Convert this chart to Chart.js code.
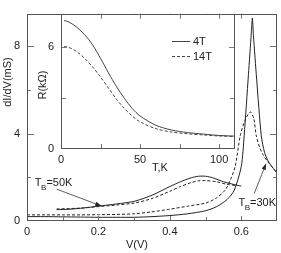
<!DOCTYPE html>
<html><head><meta charset="utf-8">
<script src="https://cdn.jsdelivr.net/npm/chart.js@4"></script>
<style>
body{margin:0;background:#fff}
#wrap{position:relative;width:281px;height:253px;overflow:hidden}
canvas{position:absolute;top:0}
#main{left:0}
#inset{left:36px}
</style>
</head><body>
<div id="wrap"><canvas id="main" width="281" height="253"></canvas><canvas id="inset" width="200" height="176"></canvas></div>
<script>
// ---------- main panel data: dI/dV (mS) vs V (V) ----------
const vSolid30 = [0, 0.05, 0.1, 0.15, 0.2, 0.25, 0.3, 0.35, 0.4, 0.45, 0.5, 0.53, 0.56, 0.58, 0.6, 0.608, 0.62, 0.628, 0.631, 0.634, 0.643, 0.656, 0.665, 0.675, 0.69, 0.7];
const gSolid30 = [0.2, 0.2, 0.19, 0.18, 0.17, 0.17, 0.17, 0.2, 0.25, 0.33, 0.47, 0.65, 0.98, 1.4, 2.5, 3.9, 6.7, 8.6, 9.3, 8.5, 6.5, 3.9, 3.15, 2.75, 2.4, 2.2];
const vDash30  = [0, 0.05, 0.1, 0.15, 0.2, 0.25, 0.3, 0.35, 0.4, 0.45, 0.5, 0.53, 0.555, 0.57, 0.583, 0.597, 0.61, 0.625, 0.635, 0.642, 0.652, 0.662, 0.675, 0.69, 0.7];
const gDash30  = [0.28, 0.28, 0.28, 0.28, 0.29, 0.3, 0.33, 0.42, 0.54, 0.68, 0.82, 1.05, 1.42, 1.9, 2.5, 3.9, 4.6, 5.0, 4.7, 3.9, 3.35, 3.0, 2.7, 2.4, 2.2];
const vSolid50 = [0.083, 0.12, 0.16, 0.2, 0.25, 0.3, 0.35, 0.4, 0.43, 0.46, 0.48, 0.5, 0.52, 0.55, 0.58, 0.6];
const gSolid50 = [0.52, 0.54, 0.6, 0.68, 0.78, 0.9, 1.18, 1.58, 1.8, 1.98, 2.05, 2.05, 1.98, 1.8, 1.67, 1.6];
const vDash50  = [0.083, 0.12, 0.16, 0.2, 0.25, 0.3, 0.35, 0.4, 0.43, 0.46, 0.48, 0.5, 0.53, 0.56, 0.59];
const gDash50  = [0.55, 0.57, 0.6, 0.66, 0.73, 0.82, 1.03, 1.36, 1.58, 1.76, 1.84, 1.85, 1.8, 1.68, 1.62];

// ---------- inset data: R (kOhm) vs T (K) ----------
const tInset = [2, 5, 10, 15, 20, 25, 30, 35, 40, 45, 50, 60, 70, 80, 90, 100, 110];
const r4T    = [7.6, 7.5, 7.2, 6.75, 6.15, 5.35, 4.5, 3.7, 3.0, 2.4, 1.95, 1.4, 1.12, 0.97, 0.88, 0.8, 0.76];
const r14T   = [6.05, 6.0, 5.75, 5.35, 4.85, 4.25, 3.6, 2.95, 2.4, 1.95, 1.6, 1.2, 1.0, 0.9, 0.83, 0.77, 0.74];

// ---------- labels ----------
const seriesLabels = ['4T', '14T'];
const mainXTitle = 'V(V)';
const mainYTitle = 'dI/dV(mS)';
const insetXTitle = 'T,K';
const insetYTitle = 'R(kΩ)';
const annotations = [
  {main: 'T', sub: 'B', rest: '=50K', at: [0.022, 1.76], from: [0.083, 1.46], to: [0.208, 0.69]},
  {main: 'T', sub: 'B', rest: '=30K', at: [0.592, 0.82], from: [0.636, 1.25], to: [0.669, 2.62]}
];

const FONT = '"Liberation Sans", Arial, Helvetica, sans-serif';
const INK = '#222';
const LINE = '#222';
const FRAME = '#555';
const TICK = '#777';
const DASH = [3, 2];

const pts = (xs, ys) => xs.map((x, i) => ({x, y: ys[i]}));

function makeFrame(cfg) {
  return {
    id: 'frame_' + cfg.name,
    beforeDraw(chart) {
      if (!cfg.fill) return;
      const a = chart.chartArea, ctx = chart.ctx;
      ctx.save(); ctx.fillStyle = '#fff';
      ctx.fillRect(a.left, a.top, a.right - a.left, a.bottom - a.top);
      ctx.restore();
    },
    afterDraw(chart) {
      const {ctx, chartArea: a, scales: {x, y}} = chart;
      ctx.save();
      ctx.lineWidth = 1;
      ctx.strokeStyle = TICK;
      ctx.beginPath();
      x.ticks.forEach(t => {
        const px = Math.round(x.getPixelForValue(t.value)) + 0.5;
        if (px < a.left + 1 || px > a.right - 1) return;
        const len = t.label !== '' ? cfg.xMajor : cfg.xMinor;
        ctx.moveTo(px, a.bottom); ctx.lineTo(px, a.bottom - len);
        ctx.moveTo(px, a.top); ctx.lineTo(px, a.top + len);
      });
      y.ticks.forEach(t => {
        const py = Math.round(y.getPixelForValue(t.value)) + 0.5;
        if (py < a.top + 1 || py > a.bottom - 1) return;
        const len = t.label !== '' ? cfg.yMajor : cfg.yMinor;
        ctx.moveTo(a.left, py); ctx.lineTo(a.left + len, py);
        ctx.moveTo(a.right, py); ctx.lineTo(a.right - len, py);
      });
      ctx.stroke();
      ctx.strokeStyle = FRAME;
      ctx.strokeRect(Math.round(a.left) + 0.5, Math.round(a.top) + 0.5,
                     Math.round(a.right - a.left) - 1, Math.round(a.bottom - a.top) - 1);
      ctx.restore();
      if (cfg.extra) cfg.extra(chart);
    }
  };
}

function textRot(ctx, s, cx, cy) {
  ctx.save(); ctx.translate(cx, cy); ctx.rotate(-Math.PI / 2);
  ctx.textAlign = 'center'; ctx.textBaseline = 'middle';
  ctx.fillText(s, 0, 0); ctx.restore();
}

function arrow(ctx, x1, y1, x2, y2) {
  ctx.beginPath(); ctx.moveTo(x1, y1); ctx.lineTo(x2, y2); ctx.stroke();
  const ang = Math.atan2(y2 - y1, x2 - x1), L = 6, W = 2.2;
  ctx.beginPath();
  ctx.moveTo(x2, y2);
  ctx.lineTo(x2 - L * Math.cos(ang) + W * Math.sin(ang), y2 - L * Math.sin(ang) - W * Math.cos(ang));
  ctx.lineTo(x2 - L * Math.cos(ang) - W * Math.sin(ang), y2 - L * Math.sin(ang) + W * Math.cos(ang));
  ctx.closePath(); ctx.fill();
}

function mainExtra(chart) {
  const {ctx, scales: {x, y}} = chart;
  ctx.save();
  ctx.fillStyle = INK; ctx.strokeStyle = '#333'; ctx.lineWidth = 0.8;
  ctx.font = '11px ' + FONT;
  textRot(ctx, mainYTitle, 8, 82);
  ctx.textAlign = 'center'; ctx.textBaseline = 'middle';
  ctx.fillText(mainXTitle, 137, 245);
  annotations.forEach(n => {
    const px = x.getPixelForValue(n.at[0]), py = y.getPixelForValue(n.at[1]);
    ctx.textAlign = 'left'; ctx.textBaseline = 'middle';
    ctx.font = '11px ' + FONT;
    ctx.fillText(n.main, px, py);
    let w = ctx.measureText(n.main).width;
    ctx.font = '8px ' + FONT;
    ctx.fillText(n.sub, px + w - 0.5, py + 5);
    w += ctx.measureText(n.sub).width - 0.5;
    ctx.font = '11px ' + FONT;
    ctx.fillText(n.rest, px + w, py);
    arrow(ctx, x.getPixelForValue(n.from[0]), y.getPixelForValue(n.from[1]),
               x.getPixelForValue(n.to[0]), y.getPixelForValue(n.to[1]));
  });
  ctx.restore();
}

function insetExtra(chart) {
  const ctx = chart.ctx;
  ctx.save();
  ctx.fillStyle = INK; ctx.font = '11px ' + FONT;
  textRot(ctx, insetYTitle, 7, 85);
  ctx.textAlign = 'center'; ctx.textBaseline = 'middle';
  ctx.fillText(insetXTitle, 124, 168);
  // legend
  const rows = [{y: 41, dash: []}, {y: 56, dash: DASH}];
  ctx.strokeStyle = '#444'; ctx.lineWidth = 1;
  chart.data.datasets.forEach((ds, i) => {
    ctx.setLineDash(rows[i].dash);
    ctx.beginPath(); ctx.moveTo(136, rows[i].y + 0.5); ctx.lineTo(154, rows[i].y + 0.5); ctx.stroke();
    ctx.setLineDash([]);
    ctx.textAlign = 'left';
    ctx.fillText(ds.label, 157, rows[i].y + 0.5);
  });
  ctx.restore();
}

const tickFont = {family: FONT, size: 11};

new Chart(document.getElementById('main'), {
  type: 'scatter',
  data: {
    datasets: [
      {label: seriesLabels[0] + ' 30K', data: pts(vSolid30, gSolid30)},
      {label: seriesLabels[1] + ' 30K', data: pts(vDash30, gDash30), borderDash: DASH},
      {label: seriesLabels[0] + ' 50K', data: pts(vSolid50, gSolid50)},
      {label: seriesLabels[1] + ' 50K', data: pts(vDash50, gDash50), borderDash: DASH}
    ].map(d => Object.assign({showLine: true, pointRadius: 0, borderColor: LINE, borderWidth: 1, tension: 0.25, fill: false}, d))
  },
  options: {
    responsive: false, animation: false, devicePixelRatio: 1,
    layout: {padding: {top: 0, right: 1, left: 0, bottom: 0}},
    plugins: {legend: {display: false}, tooltip: {enabled: false}},
    scales: {
      x: {type: 'linear', min: 0, max: 0.7,
          grid: {display: false, drawTicks: false}, border: {display: false},
          ticks: {stepSize: 0.1, includeBounds: false, autoSkip: false, maxRotation: 0, padding: 4,
                  color: INK, font: tickFont,
                  callback: v => { const r = Math.round(v * 10); return r % 2 === 0 ? String(r / 10) : ''; }},
          afterFit: s => { s.height = 32; }},
      y: {type: 'linear', min: 0, max: 9.5,
          grid: {display: false, drawTicks: false}, border: {display: false},
          ticks: {stepSize: 2, includeBounds: false, autoSkip: false, padding: 7,
                  color: INK, font: tickFont,
                  callback: v => (Math.round(v) % 4 === 0 ? String(Math.round(v)) : '')},
          afterFit: s => { s.width = 27; }}
    }
  },
  plugins: [makeFrame({name: 'main', xMajor: 5, xMinor: 4, yMajor: 7, yMinor: 4, extra: mainExtra})]
});

new Chart(document.getElementById('inset'), {
  type: 'scatter',
  data: {
    datasets: [
      {label: seriesLabels[0], data: pts(tInset, r4T)},
      {label: seriesLabels[1], data: pts(tInset, r14T), borderDash: DASH}
    ].map(d => Object.assign({showLine: true, pointRadius: 0, borderColor: '#444', borderWidth: 1, tension: 0.3, fill: false}, d))
  },
  options: {
    responsive: false, animation: false, devicePixelRatio: 1,
    layout: {padding: {top: 0, right: 1, left: 0, bottom: 0}},
    plugins: {legend: {display: false}, tooltip: {enabled: false}},
    scales: {
      x: {type: 'linear', min: 0, max: 110,
          grid: {display: false, drawTicks: false}, border: {display: false},
          ticks: {stepSize: 25, includeBounds: false, autoSkip: false, maxRotation: 0, padding: 4,
                  color: INK, font: tickFont,
                  callback: v => (v % 50 === 0 ? String(v) : '')},
          afterFit: s => { s.height = 27; }},
      y: {type: 'linear', min: 0, max: 8,
          grid: {display: false, drawTicks: false}, border: {display: false},
          ticks: {stepSize: 3, includeBounds: false, autoSkip: false, padding: 7,
                  color: INK, font: tickFont,
                  callback: v => (v % 6 === 0 ? String(v) : '')},
          afterFit: s => { s.width = 25; }}
    }
  },
  plugins: [makeFrame({name: 'inset', fill: true, xMajor: 5, xMinor: 5, yMajor: 6, yMinor: 5, extra: insetExtra})]
});
</script>
</body></html>
